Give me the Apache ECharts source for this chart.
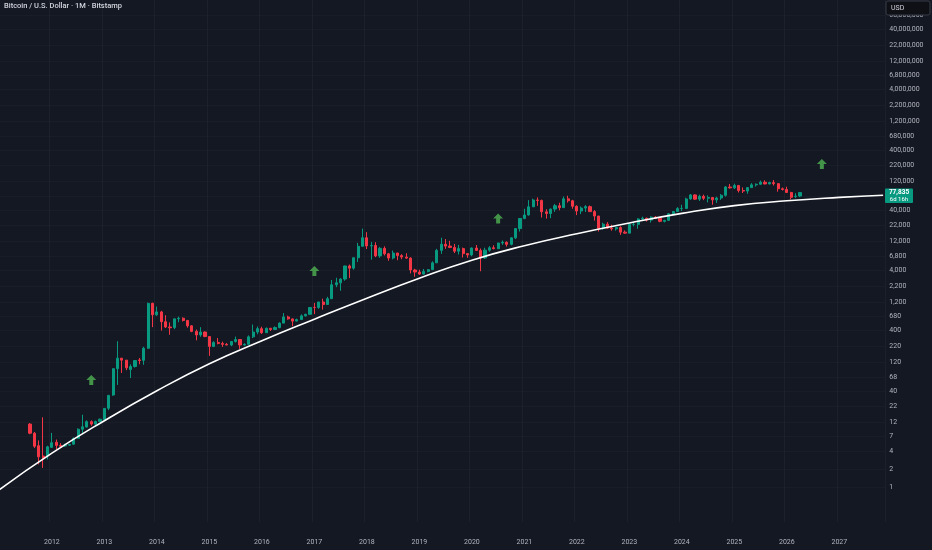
<!DOCTYPE html>
<html>
<head>
<meta charset="utf-8">
<script src="https://cdn.jsdelivr.net/npm/echarts@6/dist/echarts.min.js"></script>
<style>
html,body{margin:0;padding:0;background:#141823;}
#chart{width:932px;height:550px;}
</style>
</head>
<body>
<div id="chart"></div>
<script>
// ---------- DATA ----------
const chartTitle = 'Bitcoin / U.S. Dollar · 1M · Bitstamp';
const firstMonth = '2011-01';
const lastMonth = '2027-11';
const firstLabelYear = 2012;

// Monthly candles: [month, open, high, low, close] (USD)
const btcMonthly = [
['2011-08',11.2,11.6,7.6,7.9],['2011-09',7.9,8.3,4.5,4.8],['2011-10',4.9,6.0,2.4,3.2],['2011-11',3.3,14.5,2.1,3.05],['2011-12',3.3,4.9,2.9,4.7],
['2012-01',4.6,8.0,4.5,5.5],['2012-02',5.6,6.2,4.3,4.95],['2012-03',4.95,5.4,4.6,4.8],['2012-04',4.85,5.3,4.7,5.0],['2012-05',5.0,5.2,4.9,5.15],['2012-06',5.2,6.7,5.1,6.5],
['2012-07',6.5,9.5,6.4,9.2],['2012-08',9.2,16.0,7.8,10.1],['2012-09',10.0,12.9,9.9,12.3],['2012-10',12.3,12.9,10.5,11.2],['2012-11',11.2,12.8,10.5,12.4],['2012-12',12.4,13.8,12.3,13.5],
['2013-01',13.3,20.7,13.1,20.4],['2013-02',20.5,33.4,19.1,33.6],['2013-03',34.0,94.0,33.0,93.0],['2013-04',93,266,50,139],['2013-05',139,140,79,129],['2013-06',129,129,88,96],
['2013-07',90,110,65,101],['2013-08',101,127,97,127],['2013-09',130,140,110,127],['2013-10',128,215,108,203],['2013-11',203,1163,200,1130],['2013-12',1130,1160,455,730],
['2014-01',730,1000,700,815],['2014-02',815,850,400,560],['2014-03',560,718,440,458],['2014-04',458,545,340,445],['2014-05',447,630,421,625],['2014-06',625,680,550,640],
['2014-07',640,660,565,588],['2014-08',588,600,446,478],['2014-09',478,490,375,387],['2014-10',387,415,275,338],['2014-11',338,455,315,378],['2014-12',378,385,310,318],
['2015-01',318,320,152,218],['2015-02',218,265,212,254],['2015-03',254,300,236,244],['2015-04',244,262,214,236],['2015-05',236,248,228,230],['2015-06',230,268,220,263],
['2015-07',263,317,252,284],['2015-08',284,285,198,230],['2015-09',230,245,224,236],['2015-10',236,332,236,314],['2015-11',314,503,300,377],['2015-12',377,467,347,430],
['2016-01',430,462,350,368],['2016-02',368,448,366,436],['2016-03',436,439,393,416],['2016-04',416,468,413,448],['2016-05',448,545,436,531],['2016-06',531,779,530,673],
['2016-07',673,704,605,624],['2016-08',624,630,471,573],['2016-09',573,630,571,608],['2016-10',608,740,607,701],['2016-11',701,760,681,742],['2016-12',742,980,742,966],
['2017-01',966,1150,750,965],['2017-02',965,1200,915,1190],['2017-03',1190,1350,890,1080],['2017-04',1080,1450,1080,1350],['2017-05',1350,2760,1350,2300],['2017-06',2300,3000,2100,2480],
['2017-07',2480,2950,1830,2860],['2017-08',2860,4750,2680,4720],['2017-09',4720,4980,2970,4340],['2017-10',4340,6470,4100,6450],['2017-11',6450,11400,5500,10000],['2017-12',10000,19660,10000,13850],
['2018-01',13850,17180,9000,10150],['2018-02',10150,11800,6000,10320],['2018-03',10320,11700,6600,6930],['2018-04',6930,9770,6430,9240],['2018-05',9240,9990,7040,7490],['2018-06',7490,7760,5760,6390],
['2018-07',6390,8500,6060,7730],['2018-08',7730,7760,5880,7010],['2018-09',7010,7400,6100,6630],['2018-10',6630,7680,6200,6370],['2018-11',6370,6570,3550,4040],['2018-12',4040,4230,3120,3740],
['2019-01',3740,4090,3360,3460],['2019-02',3460,4200,3400,3830],['2019-03',3830,4140,3690,4100],['2019-04',4100,5630,4070,5320],['2019-05',5320,9080,5320,8560],['2019-06',8560,13880,7500,10820],
['2019-07',10820,13200,9070,10080],['2019-08',10080,12330,9350,9590],['2019-09',9590,10950,7710,8300],['2019-10',8300,10540,7300,9150],['2019-11',9150,9520,6510,7560],['2019-12',7560,7750,6430,7190],
['2020-01',7190,9580,6860,9350],['2020-02',9350,10500,8450,8540],['2020-03',8540,9190,3850,6410],['2020-04',6410,9470,6150,8630],['2020-05',8630,10070,8110,9450],['2020-06',9450,10380,8900,9140],
['2020-07',9140,11450,8990,11350],['2020-08',11350,12470,10600,11650],['2020-09',11650,12050,9880,10780],['2020-10',10780,14100,10380,13800],['2020-11',13800,19900,13200,19700],['2020-12',19700,29300,17600,28990],
['2021-01',28990,41950,28130,33110],['2021-02',33110,58350,32300,45200],['2021-03',45200,61790,44950,58740],['2021-04',58740,64900,47000,57700],['2021-05',57700,59500,30000,37300],['2021-06',37300,41300,28800,35040],
['2021-07',35040,42400,29300,41490],['2021-08',41490,50500,37330,47100],['2021-09',47100,52900,39600,43790],['2021-10',43790,67000,43280,61300],['2021-11',61300,69000,53250,57000],['2021-12',57000,59100,42000,46200],
['2022-01',46200,47950,32900,38480],['2022-02',38480,45800,34300,43160],['2022-03',43160,48200,37150,45530],['2022-04',45530,47450,37600,37630],['2022-05',37630,40000,26700,31800],['2022-06',31800,31900,17600,19930],
['2022-07',19930,24650,18800,23300],['2022-08',23300,25200,19540,20050],['2022-09',20050,22800,18130,19420],['2022-10',19420,21000,18200,20490],['2022-11',20490,21450,15480,17170],['2022-12',17170,18380,16260,16540],
['2023-01',16540,23950,16500,23130],['2023-02',23130,25250,21400,23140],['2023-03',23140,29200,19550,28470],['2023-04',28470,31000,26950,29260],['2023-05',29260,29850,25800,27210],['2023-06',27210,31450,24800,30480],
['2023-07',30480,31850,28860,29230],['2023-08',29230,30250,25100,25930],['2023-09',25930,27500,24900,26960],['2023-10',26960,35280,26560,34650],['2023-11',34650,38420,34100,37720],['2023-12',37720,44700,37600,42270],
['2024-01',42270,48970,38500,42580],['2024-02',42580,64000,41880,61180],['2024-03',61180,73800,59100,71300],['2024-04',71300,72800,59150,60650],['2024-05',60650,71950,56550,67500],['2024-06',67500,71950,58400,62700],
['2024-07',62700,70000,53500,64600],['2024-08',64600,65100,49000,58960],['2024-09',58960,66500,52550,63330],['2024-10',63330,73600,58900,70250],['2024-11',70250,99800,66800,96400],['2024-12',96400,108300,90500,93400],
['2025-01',93400,109600,89200,102400],['2025-02',102400,102500,78200,84350],['2025-03',84350,95000,76600,82550],['2025-04',82550,95750,74500,94200],['2025-05',94200,111900,93400,104600],['2025-06',104600,110500,98200,107150],
['2025-07',107150,123200,105300,115750],['2025-08',115750,124450,107300,108250],['2025-09',108250,117900,107250,114050],['2025-10',114050,126200,102000,109600],['2025-11',109600,111000,80600,90400],['2025-12',90400,94600,84400,87800],
['2026-01',87800,97500,76500,78300],['2026-02',78300,80000,60000,65000],['2026-03',66900,76000,63000,68200],['2026-04',68200,79500,65500,77835]
];

// White curve, read at points along the line: [month, USD]
const curvePoints = [
['2011-01',0.912],['2012-01',3.68],['2013-01',12.75],['2014-01',40.1],['2015-01',112.6],['2016-01',271],
['2017-01',617],['2018-01',1376],['2019-01',2954],['2020-01',5880],['2021-01',10230],['2022-01',16190],
['2023-01',24360],['2024-01',35170],['2025-01',47370],['2026-01',56910],['2027-01',64810],['2027-11',70500]
];

// Green up arrows: [month, USD]
const arrowMarks = [['2012-10',60.2],['2017-01',3890],['2020-07',28930],['2026-09',232300]];

// Price-scale tick labels (USD)
const yTickValues = [1,2,4,7,12,22,40,68,120,220,400,680,1200,2200,4000,6800,12000,22000,40000,68000,
  120000,220000,400000,680000,1200000,2200000,4000000,6800000,12000000,22000000,40000000,68000000];

const lastPriceText = '77,835';
const countdownText = '6d 16h';
const currencyText = 'USD';

// ---------- BUILD ----------
const months = [];
(function(){
  let y = +firstMonth.slice(0,4), m = +firstMonth.slice(5,7);
  while (true) {
    const s = y + '-' + String(m).padStart(2,'0');
    months.push(s);
    if (s === lastMonth) break;
    m++; if (m > 12) { m = 1; y++; }
  }
})();

const lg = Math.log10;
const candleData = btcMonthly.map(r => [r[0], lg(r[1]), lg(r[4]), lg(r[3]), lg(r[2])]);
const curveData = curvePoints.map(p => [p[0], lg(p[1])]);
const arrowData = arrowMarks.map(p => [p[0], lg(p[1])]);
const yTickLogs = yTickValues.map(v => lg(v));

const UP = '#089981', DOWN = '#f23645';
const LABEL = '#b2b5be';
const FONT = 'Roboto, "Noto Sans", sans-serif';
const isYearStart = (i, v) => v.endsWith('-01') && +v.slice(0, 4) >= firstLabelYear;

const chart = echarts.init(document.getElementById('chart'), null, {renderer: 'canvas'});
chart.setOption({
  backgroundColor: '#141823',
  animation: false,
  grid: {left: -2.79, right: 46.7, top: 0, bottom: 28, containLabel: false, outerBoundsMode: 'none'},
  xAxis: {
    type: 'category',
    data: months,
    boundaryGap: true,
    axisLine: {show: false},
    axisTick: {show: false},
    axisLabel: {
      interval: isYearStart,
      formatter: v => v.slice(0, 4),
      color: LABEL, fontSize: 7, fontFamily: FONT, margin: 17
    },
    splitLine: {show: true, interval: isYearStart, lineStyle: {color: 'rgba(255,255,255,0.035)', width: 1}}
  },
  yAxis: {
    type: 'value',
    position: 'right',
    min: -0.576,
    max: 8.088,
    axisLine: {show: false},
    axisTick: {show: false, customValues: yTickLogs},
    axisLabel: {
      customValues: yTickLogs,
      formatter: v => Math.round(Math.pow(10, v)).toLocaleString('en-US'),
      color: LABEL, fontSize: 7, fontFamily: FONT, margin: 4, align: 'left'
    },
    splitLine: {show: true, lineStyle: {color: 'rgba(255,255,255,0.025)', width: 1}}
  },
  series: [
    {
      type: 'candlestick',
      data: candleData,
      encode: {x: 0, y: [1, 2, 3, 4]},
      barWidth: 2.6,
      itemStyle: {color: UP, color0: DOWN, borderColor: UP, borderColor0: DOWN, borderWidth: 1},
      z: 2
    },
    {
      type: 'line',
      data: curveData,
      smooth: 0.5,
      symbol: 'none',
      lineStyle: {color: '#ffffff', width: 1.6},
      z: 3
    },
    {
      type: 'scatter',
      data: arrowData,
      symbol: 'path://M5,0L10,5L7,5L7,10L3,10L3,5L0,5Z',
      symbolSize: [10, 10],
      itemStyle: {color: '#4fb352'},
      z: 4
    }
  ],
  graphic: [
    {type: 'text', left: 4, top: 2, z: 100,
     style: {text: chartTitle, fill: '#d1d4dc', font: '500 7.5px ' + FONT}},
    {type: 'rect', shape: {x: 886, y: 1, width: 44, height: 14, r: 2}, z: 100,
     style: {fill: '#0e1016', stroke: '#363a45', lineWidth: 1}},
    {type: 'text', x: 891, y: 4.5, z: 101,
     style: {text: currencyText, fill: '#d1d4dc', font: '7px ' + FONT}},
    {type: 'rect', shape: {x: 885, y: 188.5, width: 28, height: 14.5, r: 1}, z: 100,
     style: {fill: UP}},
    {type: 'text', x: 899, y: 189.3, z: 101,
     style: {text: lastPriceText, fill: '#ffffff', font: 'bold 6.5px ' + FONT, textAlign: 'center'}},
    {type: 'text', x: 899, y: 196.3, z: 101,
     style: {text: countdownText, fill: '#ffffff', font: '6px ' + FONT, textAlign: 'center'}}
  ]
});
</script>
</body>
</html>
